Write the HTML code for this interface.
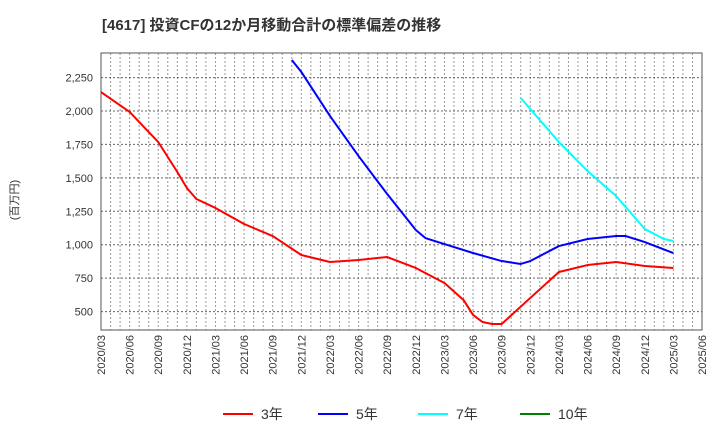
<!DOCTYPE html>
<html><head><meta charset="utf-8"><style>
body{margin:0;background:#fff;font-family:"Liberation Sans","Noto Sans CJK JP",sans-serif;}
</style></head><body>
<svg id="c" width="720" height="440" xmlns="http://www.w3.org/2000/svg" font-family="Liberation Sans, Noto Sans CJK JP, sans-serif">
<text x="102" y="30" font-size="15" font-weight="bold" fill="#333">[4617]  投資CFの12か月移動合計の標準偏差の推移</text>
<text transform="translate(18,200) rotate(-90)" font-size="11" fill="#333" text-anchor="middle">(百万円)</text>
<g id="grid"></g><g id="axes"></g><g id="series"></g><g id="legend"></g>
</svg>
<script>
const yTicks=[500,750,1000,1250,1500,1750,2000,2250];
const d3=["2020/03","2020/06","2020/09","2020/11","2020/12","2021/01","2021/03","2021/06","2021/09","2021/12","2022/03","2022/06","2022/09","2022/12","2023/03","2023/05","2023/06","2023/07","2023/08","2023/09","2023/12","2024/03","2024/06","2024/09","2024/12","2025/03"];
const v3=[2142,1993,1768,1544,1424,1342,1275,1155,1065,923,871,886,908,826,714,587,475,422,407,407,602,796,848,871,841,826];
const d5=["2021/11","2021/12","2022/03","2022/06","2022/09","2022/12","2023/01","2023/03","2023/06","2023/09","2023/11","2023/12","2024/03","2024/06","2024/09","2024/10","2024/12","2025/03"];
const v5=[2381,2292,1963,1663,1379,1110,1050,1005,938,878,856,878,990,1043,1065,1065,1020,938];
const d7=["2023/11","2024/03","2024/06","2024/09","2024/12","2025/02","2025/03"];
const v7=[2097,1768,1551,1364,1118,1043,1028];
const seriesNames=["3年","5年","7年","10年"];
const seriesColors=["#ff0000","#0000ff","#00ffff","#008000"];

const L=101,R=702,T=53,B=330;
const mIdx=s=>{const[a,b]=s.split("/").map(Number);return (a-2020)*12+(b-3);};
const X=s=>L+mIdx(s)*(R-L)/63;
const Y=v=>111-(v-2000)*33.43/250;
const NS="http://www.w3.org/2000/svg";
function mk(tag,attrs,parent){const e=document.createElementNS(NS,tag);for(const k in attrs)e.setAttribute(k,attrs[k]);parent.appendChild(e);return e;}
const grid=document.getElementById("grid"),axes=document.getElementById("axes"),ser=document.getElementById("series"),leg=document.getElementById("legend");
for(let m=1;m<63;m++){const x=L+m*(R-L)/63;
 const l=mk("line",{x1:x,x2:x,y1:T,y2:B,stroke:"#999","stroke-dasharray":"2,2","stroke-width":1},grid);
 
 }
yTicks.forEach(v=>{const y=Y(v);
 const l=mk("line",{x1:L,x2:R,y1:y,y2:y,stroke:"#666","stroke-dasharray":"2,2","stroke-width":1},grid);
 
 
 const t=mk("text",{x:L-8,y:y+4,"font-size":11,fill:"#333","text-anchor":"end"},axes);t.textContent=v.toLocaleString("en-US");
 
 });
const f=mk("rect",{x:L,y:T,width:R-L,height:B-T,fill:"none",stroke:"#555","stroke-width":1},axes);


for(let m=0;m<=63;m+=3){const yr=2020+Math.floor((m+2)/12),mo=((m+2)%12)+1;
 const s=yr+"/"+String(mo).padStart(2,"0");const x=X(s);
 const t=mk("text",{transform:`translate(${x+4},${B+5}) rotate(-90)`,"font-size":11,fill:"#333","text-anchor":"end"},axes);t.textContent=s;
 
 }
[[d3,v3,0],[d5,v5,1],[d7,v7,2]].forEach(([d,v,i])=>{
 const p=mk("polyline",{points:d.map((s,j)=>X(s)+","+Y(v[j])).join(" "),fill:"none",stroke:seriesColors[i],"stroke-width":2,"stroke-linejoin":"round"},ser);
 
 });
const lx=[223,318,418,520];
seriesNames.forEach((n,i)=>{
 const g=mk("g",{},leg);
 
 
 mk("line",{x1:lx[i],x2:lx[i]+30,y1:414,y2:414,stroke:seriesColors[i],"stroke-width":2},g);
 const t=mk("text",{x:lx[i]+38,y:419,"font-size":14,fill:"#333"},g);t.textContent=n;});
</script>
</body></html>
